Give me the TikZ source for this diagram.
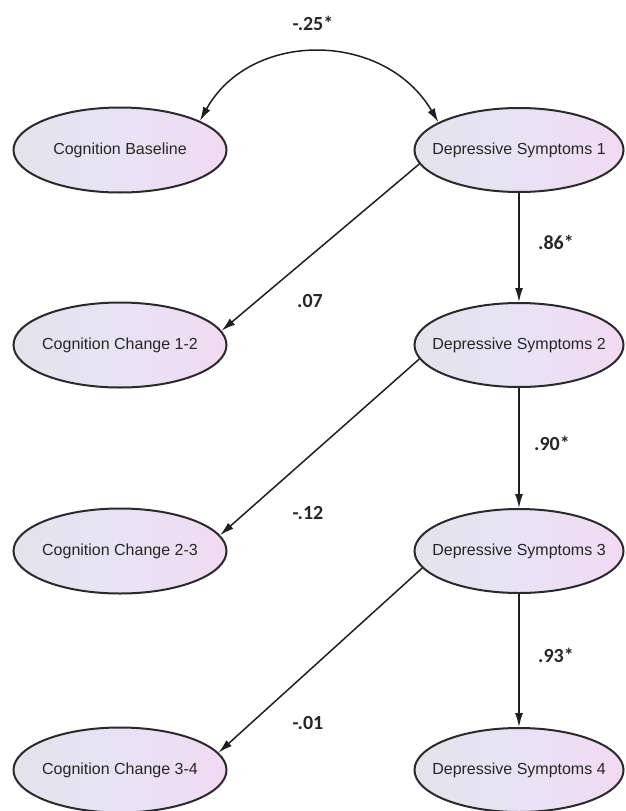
\documentclass[tikz,border=0pt]{standalone}
\usepackage{fontspec}
\setmainfont{Liberation Sans}
\newfontfamily\labfont{Carlito}
\usetikzlibrary{shapes.geometric,arrows.meta}
\definecolor{shL}{HTML}{E3E3EB}
\definecolor{shM}{HTML}{E7E3F5}
\definecolor{shR}{HTML}{F1DAF2}
\definecolor{rim}{HTML}{2A2A2A}
\definecolor{txt}{HTML}{262626}
\newcommand{\fixw}[1]{\makebox[0pt][c]{#1}}
\begin{document}
\begin{tikzpicture}[x=1pt,y=-1pt,
  var/.style={ellipse, draw=rim, line width=2pt, inner sep=0pt,
    left color=shL, right color=shR, middle color=shM,
    text=txt, font=\fontsize{16}{18}\selectfont},
  cogvar/.style={var, minimum width=213pt, minimum height=85pt},
  depvar/.style={var, minimum width=209pt, minimum height=84pt},
  arr/.style={draw=black!88, line width=1.5pt, -{Latex[length=14pt,width=8pt]}},
  darr/.style={draw=black!88, line width=1.5pt, {Latex[length=14pt,width=8pt]}-{Latex[length=14pt,width=8pt]}},
  lab/.style={font=\labfont\bfseries\fontsize{20}{23}\selectfont, text=black!85, inner sep=0pt}]
\useasboundingbox (0,0) rectangle (625,811);

\node[cogvar] (cb)   at (120,150) {\fixw{Cognition Baseline}};
\node[cogvar] (cc12) at (120,345) {\fixw{Cognition Change 1-2}};
\node[cogvar] (cc23) at (120,551) {\fixw{Cognition Change 2-3}};
\node[cogvar] (cc34) at (120,770) {\fixw{Cognition Change 3-4}};

\node[depvar] (ds1) at (519,150) {\fixw{Depressive Symptoms 1}};
\node[depvar] (ds2) at (519,345) {\fixw{Depressive Symptoms 2}};
\node[depvar] (ds3) at (519,551) {\fixw{Depressive Symptoms 3}};
\node[depvar] (ds4) at (519,770) {\fixw{Depressive Symptoms 4}};

\draw[darr] (ds1.161) .. controls (384,30) and (250,30) .. (cb.20);

\draw[arr] (ds1.south) -- (ds2.north);
\draw[arr] (ds2.south) -- (ds3.north);
\draw[arr] (ds3.south) -- (ds4.north);

\draw[arr] (ds1.188) -- (cc12.8);
\draw[arr] (ds2.188) -- (cc23.9);
\draw[arr] (ds3.190) -- (cc34.10);

\node[lab] (l0) at (313,23) {-.25*};
\node[lab] (l1) at (556,242) {.86*};
\node[lab] (l2) at (310,301) {.07};
\node[lab] (l3) at (552,443) {.90*};
\node[lab] (l4) at (308,513) {-.12};
\node[lab] (l5) at (556,655) {.93*};
\node[lab] (l6) at (308,723) {-.01};
\end{tikzpicture}
\end{document}
